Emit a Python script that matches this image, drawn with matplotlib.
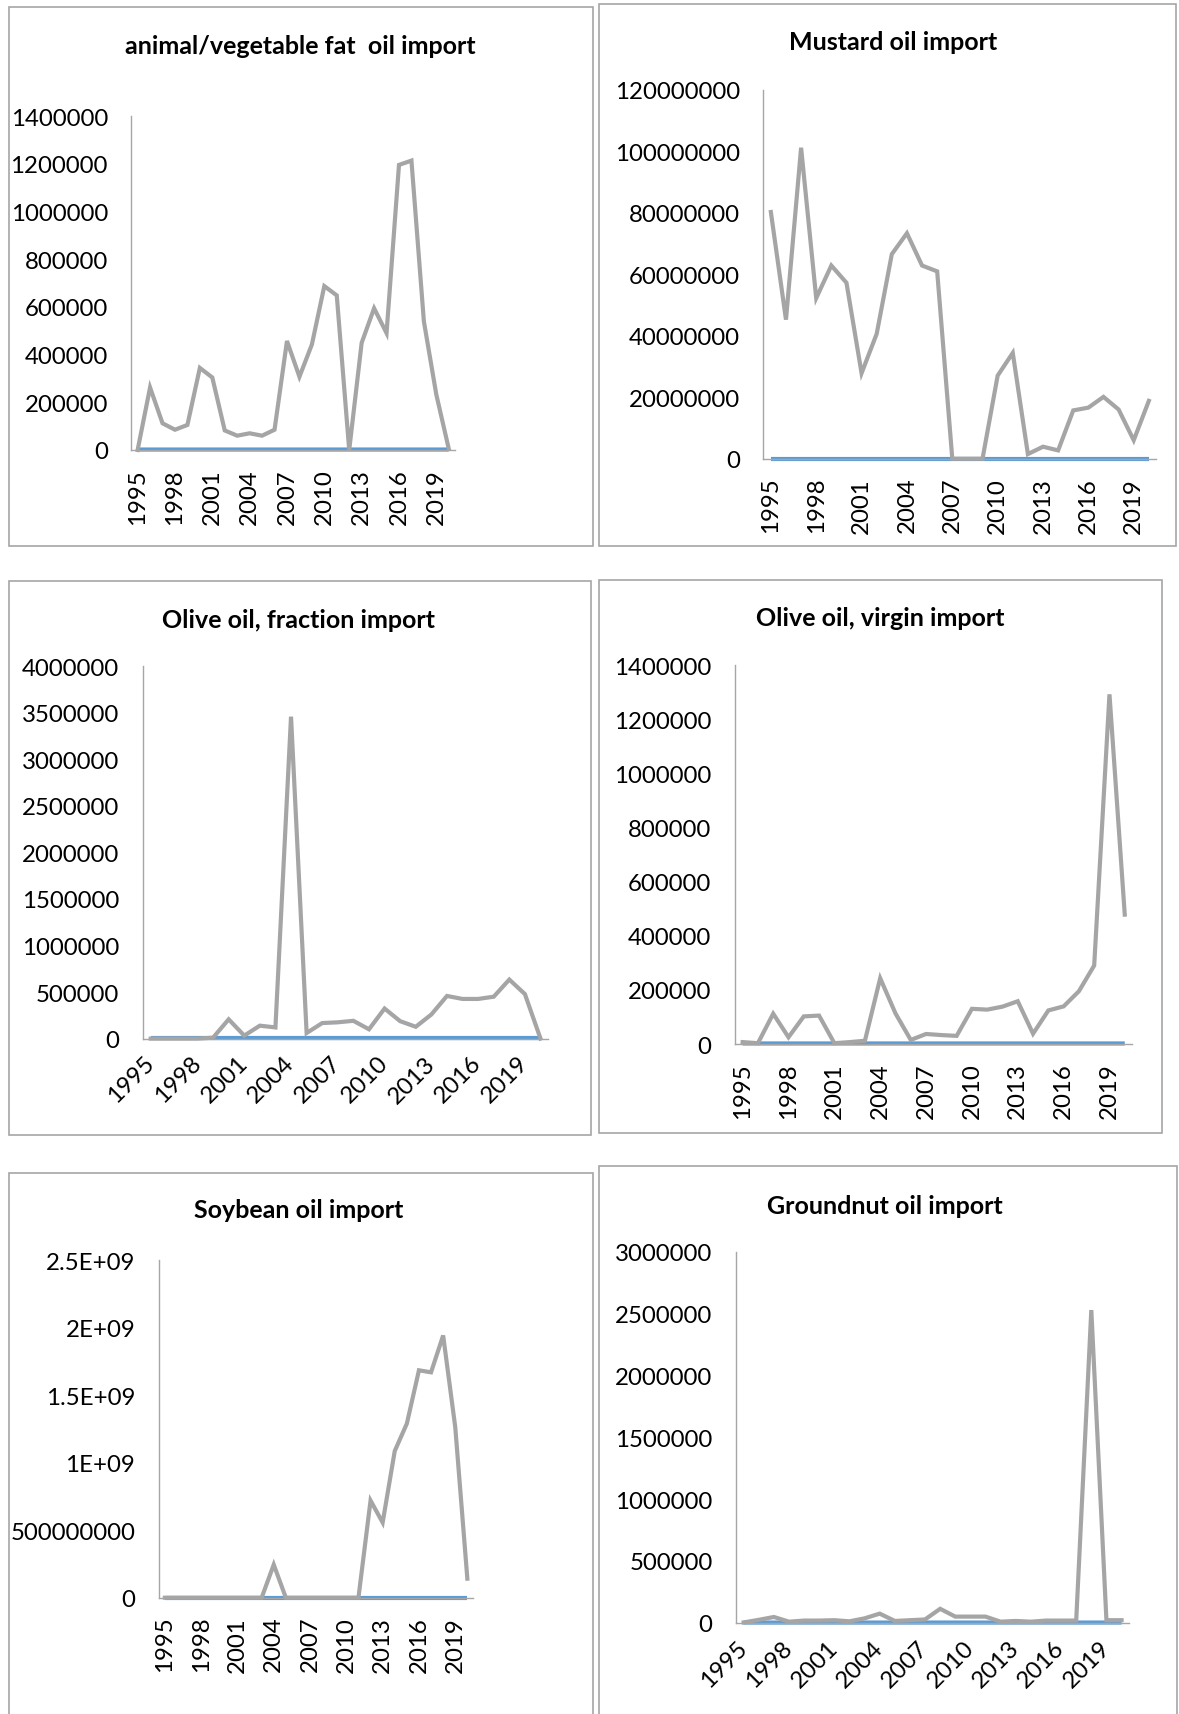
import matplotlib
matplotlib.use("Agg")
import matplotlib.pyplot as plt
from matplotlib.patches import Rectangle
from matplotlib.ticker import FuncFormatter, MultipleLocator

plt.rcParams["font.family"] = ["Lato", "DejaVu Sans"]

years = list(range(1995, 2021))

animal_fat = [0, 262000, 112000, 85000, 105000, 344000, 304000, 82000, 60000, 70000,
              60000, 85000, 457000, 307000, 442000, 687000, 648000, 0, 449000, 594000,
              490000, 1195000, 1213000, 539000, 232000, 5000]
mustard = [80200000, 45200000, 101100000, 52200000, 62800000, 57200000, 27800000,
           40600000, 66500000, 73300000, 62800000, 60900000, 0, 0, 0, 27000000,
           34400000, 1500000, 3900000, 2700000, 15700000, 16600000, 20100000,
           16000000, 6000000, 18800000]
olive_fraction = [0, 0, 0, 0, 10000, 207000, 32000, 139000, 120000, 3458000, 60000,
                  167000, 175000, 191000, 100000, 323000, 187000, 127000, 259000,
                  458000, 426000, 426000, 450000, 634000, 478000, 0]
olive_virgin = [7000, 3000, 112000, 25000, 102000, 105000, 3000, 7000, 12000, 243000,
                113000, 15000, 37000, 33000, 30000, 130000, 127000, 138000, 158000,
                38000, 124000, 139000, 195000, 290000, 1292000, 478000]
soybean = [0, 0, 0, 0, 0, 0, 0, 0, 0, 245000000, 0, 0, 0, 0, 0, 0, 0, 720000000,
           557000000, 1087000000, 1290000000, 1685000000, 1670000000, 1943000000,
           1264000000, 141000000]
groundnut = [3000, 24000, 47000, 9000, 18000, 18000, 21000, 12000, 36000, 74000, 15000,
             21000, 27000, 113000, 50000, 50000, 50000, 9000, 15000, 9000, 18000, 18000,
             18000, 2527000, 21000, 21000]

titles = ["animal/vegetable fat  oil import", "Mustard oil import",
          "Olive oil, fraction import", "Olive oil, virgin import",
          "Soybean oil import", "Groundnut oil import"]
series = [animal_fat, mustard, olive_fraction, olive_virgin, soybean, groundnut]
y_max = [1400000, 120000000, 4000000, 1400000, 2500000000, 3000000]
y_step = [200000, 20000000, 500000, 200000, 500000000, 500000]
x_rot = [90, 90, 45, 90, 90, 45]

W, H = 1179, 1715
# pixel layout: panel border (l, t, r, b), plot area (l, t, r, b), title centre (x, y)
borders = [(9, 8, 593, 547), (599, 5, 1176, 547), (9, 582, 591, 1136),
           (599, 581, 1162, 1134), (9, 1174, 593, 1760), (599, 1167, 1177, 1760)]
plots = [(131.4, 117, 455.0, 451), (763.3, 90.6, 1156.4, 459.7),
         (142.9, 667.2, 548.3, 1039.6), (735.0, 666.1, 1132.4, 1045),
         (158.8, 1261.3, 473.4, 1598.7), (736.1, 1252.5, 1129.1, 1623.8)]
title_xy = [(300, 46), (893, 43), (299, 620), (880, 619), (299, 1211), (885, 1206)]


def excel_general(v, pos):
    if v >= 1e9:
        return f"{v / 1e9:g}E+09"
    return f"{v:.0f}"


fig = plt.figure(figsize=(W / 100, H / 100), dpi=100)

for i in range(6):
    bl, bt, br, bb = borders[i]
    fig.patches.append(Rectangle((bl / W, 1 - bb / H), (br - bl) / W, (bb - bt) / H,
                                 transform=fig.transFigure, fill=False,
                                 edgecolor="#a6a6a6", linewidth=1.2))
    tx, ty = title_xy[i]
    fig.text(tx / W, 1 - ty / H, titles[i], ha="center", va="center",
             fontsize=18, fontweight="bold", color="black")

    pl, pt, pr, pb = plots[i]
    ax = fig.add_axes([pl / W, 1 - pb / H, (pr - pl) / W, (pb - pt) / H])
    idx = list(range(len(years)))
    # "year" series sits at ~0 on these scales (blue), data series grey on top
    ax.plot(idx, years, color="#5b9bd5", lw=3.0, clip_on=False, solid_capstyle="butt")
    ax.plot(idx, series[i], color="#a5a5a5", lw=3.0, clip_on=False,
            solid_joinstyle="miter")
    ax.set_xlim(-0.5, len(years) - 0.5)
    ax.set_ylim(0, y_max[i])
    ax.yaxis.set_major_locator(MultipleLocator(y_step[i]))
    ax.yaxis.set_major_formatter(FuncFormatter(excel_general))
    ax.set_xticks(idx[::3])
    ax.set_xticklabels([str(y) for y in years[::3]])
    for s in ("top", "right"):
        ax.spines[s].set_visible(False)
    for s in ("left", "bottom"):
        ax.spines[s].set_color("#a6a6a6")
        ax.spines[s].set_linewidth(1.0)
    ax.tick_params(axis="y", length=0, pad=17, labelsize=17.3)
    if x_rot[i] == 90:
        ax.tick_params(axis="x", length=0, pad=13, labelsize=17.3, labelrotation=90)
    else:
        ax.tick_params(axis="x", length=0, pad=15, labelsize=17.3)
        for lab in ax.get_xticklabels():
            lab.set_rotation(45)
            lab.set_ha("right")
            lab.set_va("center")
            lab.set_rotation_mode("anchor")
    ax.patch.set_alpha(0)

fig.savefig("out.png", dpi=100, facecolor="white")
